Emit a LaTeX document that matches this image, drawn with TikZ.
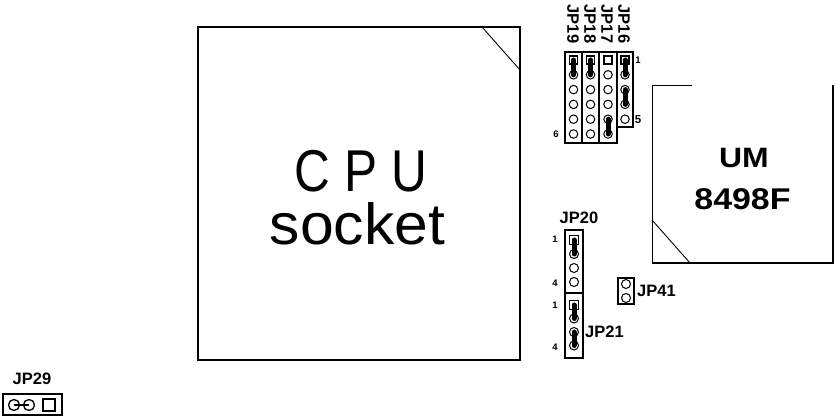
\documentclass[tikz,border=0pt]{standalone}
\usepackage{fontspec}
\usepackage{graphicx}
\setmainfont{Liberation Sans}
\begin{document}
\begin{tikzpicture}[x=1pt,y=-1pt,
  boxline/.style={draw=black,line width=1.1pt},
  pinc/.style={circle,draw=black,line width=1pt,minimum size=8.5pt,inner sep=0pt},
  pins/.style={rectangle,draw=black,line width=1.2pt,minimum size=8pt,inner sep=0pt},
  capbar/.style={line width=5pt,line cap=round,black},
  jplabel/.style={font=\fontsize{16.5}{16.5}\selectfont\bfseries,inner sep=0pt},
  numlabel/.style={font=\fontsize{9.5}{9.5}\selectfont\bfseries,inner sep=0pt},
  cpuletter/.style={font=\fontsize{59}{59}\selectfont,inner sep=0pt,xscale=0.84},
]
\useasboundingbox (0,0) rectangle (835,419);
% CPU socket
\draw[line width=1.3pt] (198,27) rectangle (520,360);
\draw[line width=0.9pt] (482,27) -- (520,70);
\node[cpuletter,anchor=base] (cpuC) at (312,192) {C};
\node[cpuletter,anchor=base] (cpuP) at (361,192) {P};
\node[cpuletter,anchor=base] (cpuU) at (409,192) {U};
\node[font=\fontsize{58}{58}\selectfont,inner sep=0pt,anchor=base] (sock) at (357.5,245) {\scalebox{1.045}[1]{socket}};
% UM 8498F
\draw[line width=0.9pt] (692,85) -- (652,85) -- (652,263);
\draw[line width=1.8pt] (652,263) -- (833,263) -- (833,85);
\draw[line width=0.9pt] (652,220) -- (690,263);
\node[font=\fontsize{28}{28}\selectfont\bfseries,inner sep=0pt,anchor=base] (um) at (744,168) {\scalebox{1.14}[1]{UM}};
\node[font=\fontsize{30}{30}\selectfont\bfseries,inner sep=0pt,anchor=base] (chip) at (742.5,210) {\scalebox{1.13}[1]{8498F}};
% top jumper block
\draw[boxline] (565,52) rectangle (582,143);
\draw[boxline] (582,52) rectangle (599,143);
\draw[boxline] (599,52) rectangle (617,143);
\draw[boxline] (617,52) rectangle (633,127);
\node[jplabel,rotate=-90] (l19) at (573,24) {JP19};
\node[jplabel,rotate=-90] (l18) at (590,24) {JP18};
\node[jplabel,rotate=-90] (l17) at (607,24) {JP17};
\node[jplabel,rotate=-90] (l16) at (624,24) {JP16};
\foreach \n/\x/\m in {19/573.5/6,18/590.5/6,17/608/6,16/625/5}{
  \node[pins] (p\n-1) at (\x,60) {};
  \foreach \k in {2,...,\m}{
    \node[pinc] (p\n-\k) at (\x,{60+14.8*(\k-1)}) {};
  }
}
\draw[capbar] (p19-1.center) -- (p19-2.center);
\draw[capbar] (p18-1.center) -- (p18-2.center);
\draw[capbar] (p17-5.center) -- (p17-6.center);
\draw[capbar] (p16-1.center) -- (p16-2.center);
\draw[capbar] (p16-3.center) -- (p16-4.center);
\node[numlabel] (n1a) at (638,60) {1};
\node[numlabel,font=\fontsize{11.5}{11.5}\selectfont\bfseries] (n5) at (638,120) {5};
\node[numlabel] (n6) at (556,134) {6};
% JP20 / JP21
\node[jplabel] (l20) at (579,218) {JP20};
\draw[boxline] (565,230) rectangle (583,293);
\draw[boxline] (565,293) rectangle (583,358);
\node[pins,minimum size=9pt] (q20-1) at (574,240) {};
\node[pinc,minimum size=9pt] (q20-2) at (574,254) {};
\node[pinc,minimum size=9pt] (q20-3) at (574,268) {};
\node[pinc,minimum size=9pt] (q20-4) at (574,282) {};
\node[pins,minimum size=9pt] (q21-1) at (574,305) {};
\node[pinc,minimum size=9pt] (q21-2) at (574,318.5) {};
\node[pinc,minimum size=9pt] (q21-3) at (574,332) {};
\node[pinc,minimum size=9pt] (q21-4) at (574,345.5) {};
\draw[capbar] (q20-1.center) -- (q20-2.center);
\draw[capbar] (q21-1.center) -- (q21-2.center);
\draw[capbar] (q21-3.center) -- (q21-4.center);
\node[numlabel] (m1a) at (555,239) {1};
\node[numlabel] (m4a) at (555,283) {4};
\node[font=\fontsize{9.5}{9.5}\selectfont\bfseries\rmfamily,inner sep=0pt] (m1b) at (555,305) {1};
\node[numlabel] (m4b) at (555,347) {4};
\node[jplabel,anchor=west] (l21) at (585,332) {JP21};
% JP41
\draw[boxline] (618,278) rectangle (634,304);
\node[pinc,minimum size=9pt] (r41-1) at (626,284) {};
\node[pinc,minimum size=9pt] (r41-2) at (626,298) {};
\node[jplabel,anchor=west] (l41) at (637,291) {JP41};
% JP29
\node[jplabel] (l29) at (32,378.5) {JP29};
\draw[line width=1.6pt] (3,394) rectangle (62,415);
\node[pinc,minimum size=11pt,line width=1.3pt] (s29-1) at (14,405) {};
\node[pinc,minimum size=11pt,line width=1.3pt] (s29-2) at (29,405) {};
\node[pins,minimum size=12pt,line width=1.3pt] (s29-3) at (49,405) {};
\draw[line width=2pt] (s29-1.center) -- (s29-2.center);
\end{tikzpicture}
\end{document}
